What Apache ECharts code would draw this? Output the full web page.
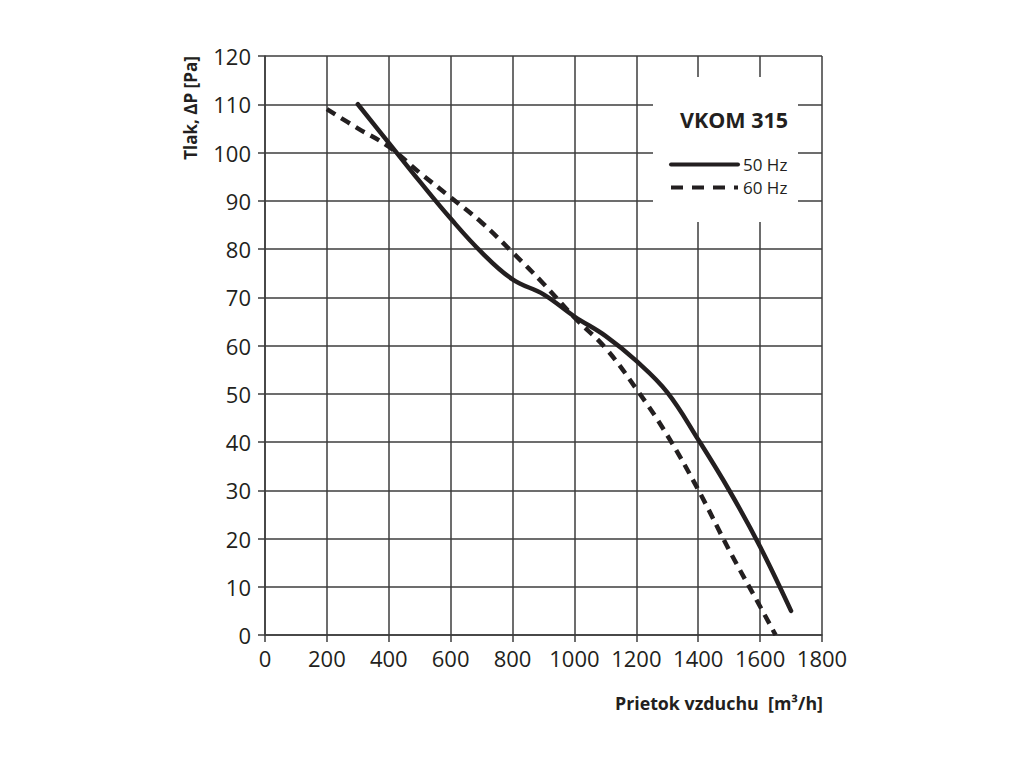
<!DOCTYPE html>
<html>
<head>
<meta charset="utf-8">
<script src="https://cdn.jsdelivr.net/npm/echarts@6/dist/echarts.min.js"></script>
<style>
  html, body { margin: 0; padding: 0; background: #fff; }
  #chart { width: 1024px; height: 768px; }
</style>
</head>
<body>
<div id="chart"></div>
<script>
// VKOM 315 fan curve, pressure vs airflow
const flow50 = [300, 400, 500, 600, 700, 800, 900, 1000, 1100, 1200, 1300, 1400, 1500, 1600, 1700];
const press50 = [110, 102, 94, 86.3, 79.3, 73.7, 70.6, 66, 62, 56.8, 50.3, 40.5, 30, 18.3, 5];

const flow60 = [200, 300, 400, 500, 600, 700, 800, 900, 1000, 1100, 1200, 1300, 1400, 1500, 1600, 1650];
const press60 = [109, 105, 101.2, 95.8, 90.7, 85.5, 79.3, 72.8, 65.8, 59.5, 51, 41.4, 30.1, 17.6, 5.9, 0];

const xName = 'Prietok vzduchu  [m³/h]';
const yName = 'Tlak, ΔP [Pa]';
const modelName = 'VKOM 315';

const ink = '#231f20';
const gridInk = '#3c3c3c';
const font = '"Open Sans", "Noto Sans", sans-serif';

const pairs = (xs, ys) => xs.map((x, i) => [x, ys[i]]);

const chart = echarts.init(document.getElementById('chart'), null, { renderer: 'svg' });

chart.setOption({
    animation: false,
    backgroundColor: '#fff',
    grid: { left: 265, right: 202, top: 56, bottom: 133, containLabel: false },
    title: {
        text: modelName,
        left: 675, top: 103,
        textStyle: { fontFamily: font, fontWeight: 'bold', fontSize: 21.5, color: ink }
    },
    legend: {
        orient: 'vertical',
        left: 669, top: 156, padding: 0,
        itemWidth: 67, itemHeight: 14, itemGap: 6,
        itemStyle: { opacity: 0 },
        lineStyle: { width: 4 },
        data: [
            { name: '50 Hz' },
            { name: '60 Hz', lineStyle: { type: [12, 9] } }
        ],
        textStyle: { fontFamily: font, fontSize: 17, color: ink }
    },
    xAxis: {
        type: 'value', min: 0, max: 1800, interval: 200,
        axisLine: { show: true, lineStyle: { color: gridInk, width: 1.5 } },
        axisTick: { show: true, inside: false, length: 7, lineStyle: { color: gridInk, width: 1.5 } },
        axisLabel: { margin: 12, fontFamily: font, fontSize: 22, color: ink, formatter: v => String(v) },
        splitLine: { show: true, lineStyle: { color: gridInk, width: 1.5 } }
    },
    yAxis: {
        type: 'value', min: 0, max: 120, interval: 10,
        axisLine: { show: true, lineStyle: { color: gridInk, width: 1.5 } },
        axisTick: { show: true, inside: false, length: 7, lineStyle: { color: gridInk, width: 1.5 } },
        axisLabel: { margin: 14, fontFamily: font, fontSize: 22, color: ink },
        splitLine: { show: true, lineStyle: { color: gridInk, width: 1.5 } }
    },
    graphic: [
        {
            // white box behind the title/legend, hides grid lines
            type: 'rect', z: 1,
            shape: { x: 653, y: 77, width: 145, height: 145 },
            style: { fill: '#fff' }
        },
        {
            type: 'text', x: 190, y: 108, rotation: Math.PI / 2,
            style: {
                text: yName, font: 'bold 17px ' + font, fill: ink,
                textAlign: 'center', textVerticalAlign: 'middle'
            }
        },
        {
            type: 'text', x: 823, y: 703,
            style: {
                text: xName, font: 'bold 17.8px ' + font, fill: ink,
                textAlign: 'right', textVerticalAlign: 'middle'
            }
        }
    ],
    series: [
        {
            name: '50 Hz', type: 'line', smooth: 0.4, symbol: 'none', z: 3,
            data: pairs(flow50, press50),
            lineStyle: { color: ink, width: 4.5, cap: 'round' },
            itemStyle: { color: ink }
        },
        {
            name: '60 Hz', type: 'line', smooth: 0.4, symbol: 'none', z: 3,
            data: pairs(flow60, press60),
            lineStyle: { color: ink, width: 4.5, type: [10, 7] },
            itemStyle: { color: ink }
        }
    ]
});
</script>
</body>
</html>
